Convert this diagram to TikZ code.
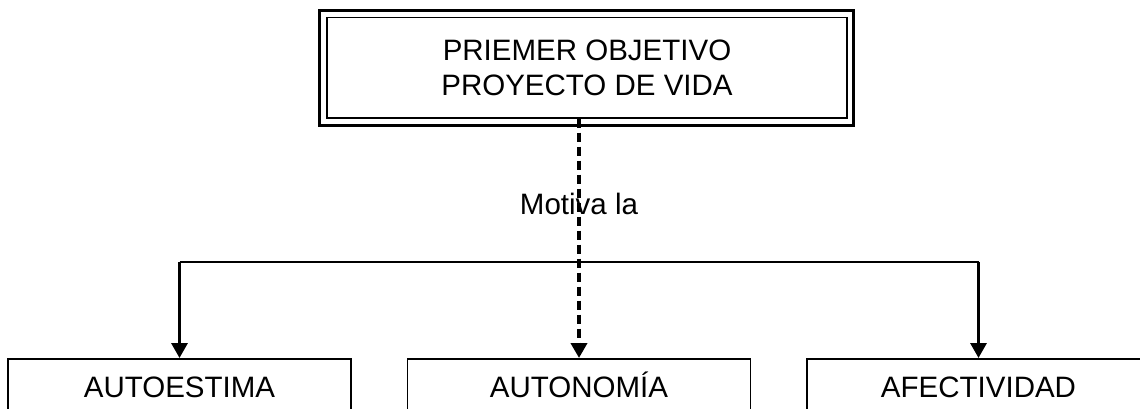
\documentclass[tikz,border=0pt]{standalone}
\usepackage{fontspec}
\setmainfont{Liberation Sans}
\usetikzlibrary{arrows.meta}
\begin{document}
\begin{tikzpicture}[x=1pt,y=-1pt,
  lbl/.style={font=\fontsize{29.5}{35}\selectfont},
  boxbottom/.style={draw, line width=1.6pt, anchor=north, minimum width=343pt, inner xsep=0pt, inner ysep=17pt, text height=22pt, text depth=40pt, lbl},
  arr/.style={-{Triangle[width=16pt,length=15pt]}, line width=3.2pt},
  darr/.style={-{Triangle[width=16pt,length=15pt]}, line width=3.8pt, dash pattern=on 9pt off 5pt}]
\useasboundingbox (0,0) rectangle (1140,408);
\clip (0,0) rectangle (1140,408);
\node[draw, line width=1.4pt, minimum width=520pt, minimum height=100.5pt, inner sep=0pt, align=center, lbl] (top) at (587,67.75) {PRIEMER OBJETIVO\\PROYECTO DE VIDA};
\draw[line width=3.4pt] ([shift={(-7,-6.5)}]top.north west) rectangle ([shift={(5.5,6.5)}]top.south east);
\node[boxbottom] (b1) at (179.5,358) {AUTOESTIMA};
\node[boxbottom] (b2) at (579,358) {AUTONOMÍA};
\node[boxbottom] (b3) at (978.5,358) {AFECTIVIDAD};
\node[lbl, anchor=base] (mot) at (579,214) {Motiva la};
\coordinate (bar) at (0,262);
\draw[line width=2pt] (b1.north |- bar) -- (b3.north |- bar);
\draw[arr] (b1.north |- bar) -- (b1.north);
\draw[arr] (b3.north |- bar) -- (b3.north);
\draw[darr] (top.south -| b2.north) -- (b2.north);
\end{tikzpicture}
\end{document}
